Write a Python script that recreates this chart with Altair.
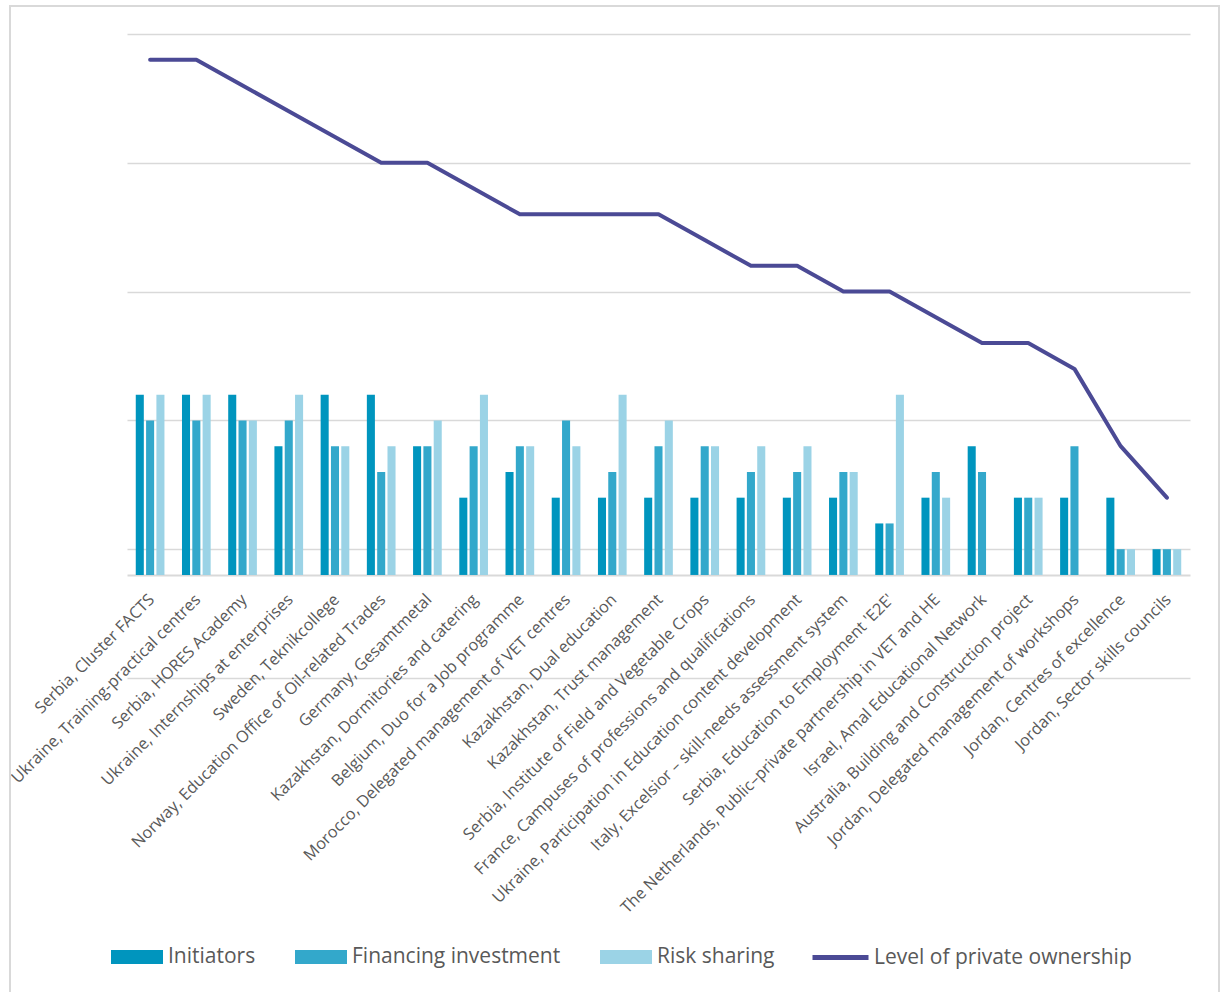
import altair as alt
import pandas as pd

categories = [
    "Serbia, Cluster FACTS",
    "Ukraine, Training-practical centres",
    "Serbia, HORES Academy",
    "Ukraine, Internships at enterprises",
    "Sweden, Teknikcollege",
    "Norway, Education Office of Oil-related Trades",
    "Germany, Gesamtmetal",
    "Kazakhstan, Dormitories and catering",
    "Belgium, Duo for a Job programme",
    "Morocco, Delegated management of VET centres",
    "Kazakhstan, Dual education",
    "Kazakhstan, Trust management",
    "Serbia, Institute of Field and Vegetable Crops",
    "France, Campuses of professions and qualifications",
    "Ukraine, Participation in Education content development",
    "Italy, Excelsior \u2013 skill-needs assessment system",
    "Serbia, Education to Employment 'E2E'",
    "The Netherlands, Public\u2013private partnership in VET and HE",
    "Israel, Amal Educational Network",
    "Australia, Building and Construction project",
    "Jordan, Delegated management of workshops",
    "Jordan, Centres of excellence",
    "Jordan, Sector skills councils",
]
initiators = [7, 7, 7, 5, 7, 7, 5, 3, 4, 3, 3, 3, 3, 3, 3, 3, 2, 3, 5, 3, 3, 3, 1]
financing = [6, 6, 6, 6, 5, 4, 5, 5, 5, 6, 4, 5, 5, 4, 4, 4, 2, 4, 4, 3, 5, 1, 1]
risk_sharing = [7, 7, 6, 7, 5, 5, 6, 7, 5, 5, 7, 6, 5, 5, 5, 4, 7, 3, None, 3, None, 1, 1]
ownership = [20, 20, 19, 18, 17, 16, 16, 15, 14, 14, 14, 14, 13, 12, 12, 11, 11, 10, 9, 9, 8, 5, 3]

series = ["Initiators", "Financing investment", "Risk sharing"]
bar_colors = ["#0095BE", "#33A8CB", "#9BD3E6"]
line_name = "Level of private ownership"
line_color = "#4B4A95"
grid_values = [-4, 1, 6, 11, 16, 21]

rows = []
for i, c in enumerate(categories):
    for s, vals in zip(series, [initiators, financing, risk_sharing]):
        v = vals[i]
        if v is not None:
            rows.append({"cat": c, "series": s, "value": v})
bars_df = pd.DataFrame(rows)
line_df = pd.DataFrame({"cat": categories, "value": ownership, "series": [line_name] * len(categories)})

FONT = "Open Sans"
TXT = "#595959"
GRID = "#D9D9D9"

x_enc = alt.X(
    "cat:N",
    sort=categories,
    scale=alt.Scale(paddingInner=0, paddingOuter=0),
    axis=alt.Axis(
        title=None,
        labelAngle=-45,
        labelFontSize=16.3,
        labelColor=TXT,
        labelFont=FONT,
        ticks=False,
        domainColor=GRID,
        domainWidth=2,
        offset=-103,
        labelPadding=16,
        labelOffset=-4,
        labelLimit=0,
        labelAlign="right",
        labelBaseline="top",
    ),
)

y_scale = alt.Scale(domain=[-4, 21], nice=False)
y_axis = alt.Axis(
    title=None,
    labels=False,
    ticks=False,
    domain=False,
    values=grid_values,
    gridColor=GRID,
    gridWidth=1.5,
)

bar_path = "M-1,-0.27L1,-0.27L1,0.27L-1,0.27Z"

bars = alt.Chart(bars_df).mark_bar().encode(
    x=x_enc,
    xOffset=alt.XOffset("series:N", sort=series, scale=alt.Scale(paddingInner=0.22, paddingOuter=0.85)),
    y=alt.Y("value:Q", scale=y_scale, axis=y_axis),
    fill=alt.Fill(
        "series:N",
        sort=series,
        scale=alt.Scale(domain=series, range=bar_colors),
        legend=alt.Legend(
            title=None,
            orient="none",
            legendX=-16,
            legendY=897,
            direction="horizontal",
            labelFontSize=21,
            labelColor=TXT,
            labelFont=FONT,
            labelLimit=0,
            symbolType=bar_path,
            symbolSize=2704,
            symbolStrokeWidth=0,
            labelOffset=5,
            columnPadding=39,
            padding=0,
        ),
    ),
)

line = alt.Chart(line_df).mark_line(strokeWidth=4, strokeCap="round", strokeJoin="round").encode(
    x=x_enc,
    y=alt.Y("value:Q", scale=y_scale, axis=y_axis),
    stroke=alt.Stroke(
        "series:N",
        scale=alt.Scale(domain=[line_name], range=[line_color]),
        legend=alt.Legend(
            title=None,
            orient="none",
            legendX=683,
            legendY=893,
            direction="horizontal",
            labelFontSize=21,
            labelColor=TXT,
            labelFont=FONT,
            labelLimit=0,
            symbolType="stroke",
            symbolSize=3136,
            symbolStrokeWidth=5,
            labelOffset=3,
            padding=0,
        ),
    ),
)

border = alt.Chart(pd.DataFrame({"a": [0]})).mark_rect(
    fillOpacity=0, stroke=GRID, strokeWidth=2
).encode(
    x=alt.value(-117), x2=alt.value(1092), y=alt.value(-28), y2=alt.value(1010)
)

chart = alt.layer(border, bars, line).properties(
    width=1063,
    height=644,
    padding={"left": 127, "top": 34, "right": 31, "bottom": 314},
    autosize=alt.AutoSizeParams(type="none"),
    background="white",
).configure_view(stroke=None)

chart.save("out.html", embed_options={"renderer": "svg", "actions": False})
